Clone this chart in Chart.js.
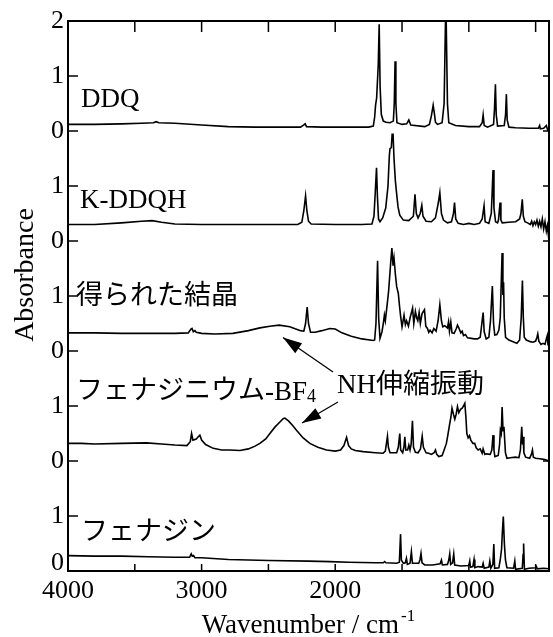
<!DOCTYPE html>
<html><head><meta charset="utf-8">
<script src="https://cdn.jsdelivr.net/npm/chart.js@4"></script>
<style>html,body{margin:0;padding:0;background:#fff}</style>
</head><body>
<canvas id="c" width="553" height="637"></canvas>
<script>
// ---- Data (wavenumber in cm-1, absorbance relative to each trace's own zero) ----
const ddqWn  = [4000,3800,3600,3450,3360,3340,3320,3200,3000,2800,2600,2400,2260,2235,2225,2215,2100,1900,1750,1715,1705,1698,1690,1684,1678,1671,1664,1655,1640,1620,1590,1565,1558,1552,1546,1538,1500,1465,1449,1435,1330,1295,1280,1267,1258,1250,1235,1200,1185,1172,1160,1150,1100,1000,920,900,893,885,860,815,808,801,795,785,735,725,719,713,700,650,550,480,470,465,440,420,410,400];
const ddqAbs = [0.12,0.12,0.13,0.14,0.15,0.17,0.15,0.14,0.11,0.08,0.07,0.07,0.07,0.11,0.13,0.08,0.07,0.07,0.07,0.09,0.25,0.47,0.6,0.9,1.2,1.94,0.8,0.3,0.18,0.16,0.15,0.18,0.5,1.27,0.5,0.15,0.12,0.13,0.2,0.11,0.08,0.12,0.28,0.47,0.32,0.16,0.12,0.15,0.5,2.4,0.5,0.15,0.1,0.08,0.08,0.15,0.29,0.1,0.07,0.12,0.4,0.85,0.3,0.09,0.1,0.3,0.67,0.2,0.07,0.06,0.05,0.05,0.1,0.04,0.05,0.1,0.02,0.03];

const kddqhWn  = [4000,3800,3600,3450,3370,3300,3200,3000,2800,2500,2280,2250,2235,2222,2212,2200,2180,2000,1800,1725,1710,1700,1691,1684,1676,1665,1645,1622,1605,1595,1590,1580,1574,1567,1560,1550,1542,1530,1517,1490,1450,1415,1403,1393,1380,1364,1352,1343,1320,1280,1250,1228,1217,1205,1190,1160,1130,1115,1107,1098,1080,1040,1000,960,920,900,886,878,850,832,825,819,812,800,785,778,772,766,760,750,700,650,620,610,600,592,580,560,540,530,520,510,500,490,480,470,460,450,440,430,420,412,405,400];
const kddqhAbs = [0.30,0.30,0.33,0.36,0.37,0.34,0.31,0.30,0.30,0.30,0.30,0.34,0.55,0.82,0.55,0.36,0.31,0.30,0.30,0.31,0.45,0.9,1.33,0.8,0.4,0.35,0.42,0.6,1.0,1.55,1.68,1.70,1.94,1.94,1.5,1.1,0.9,0.62,0.47,0.38,0.37,0.45,0.85,0.5,0.42,0.5,0.65,0.45,0.36,0.35,0.42,0.7,0.88,0.5,0.38,0.33,0.35,0.5,0.70,0.4,0.32,0.30,0.32,0.30,0.32,0.4,0.64,0.35,0.32,0.5,0.9,1.29,0.6,0.35,0.33,0.38,0.55,0.70,0.38,0.33,0.34,0.35,0.4,0.5,0.76,0.45,0.35,0.33,0.30,0.36,0.28,0.35,0.30,0.38,0.27,0.36,0.26,0.40,0.22,0.35,0.18,0.28,0.12,0.20];

const crystalWn  = [4000,3800,3600,3400,3200,3100,3080,3072,3062,3050,3040,3000,2900,2766,2650,2564,2489,2420,2340,2260,2235,2222,2210,2200,2185,2150,2100,2040,2000,1950,1880,1800,1716,1705,1695,1683,1675,1665,1650,1640,1632,1625,1610,1600,1585,1576,1567,1560,1550,1540,1528,1518,1510,1500,1492,1485,1475,1466,1452,1440,1421,1412,1400,1390,1382,1372,1363,1350,1332,1322,1310,1300,1290,1275,1262,1245,1230,1217,1205,1195,1180,1160,1152,1145,1135,1126,1110,1095,1085,1075,1060,1050,1040,1025,1010,980,960,935,915,905,893,885,870,850,838,824,815,806,790,775,765,751,745,740,735,725,700,660,640,620,608,599,592,585,570,540,520,500,490,484,476,460,445,430,420,413,408,400];
const crystalAbs = [0.33,0.33,0.32,0.32,0.32,0.33,0.40,0.41,0.35,0.37,0.34,0.32,0.31,0.32,0.37,0.42,0.45,0.47,0.44,0.37,0.36,0.5,0.80,0.5,0.34,0.34,0.37,0.41,0.40,0.33,0.27,0.22,0.19,0.2,0.5,1.64,0.6,0.23,0.35,0.50,0.65,0.55,0.87,1.1,1.6,1.87,1.55,1.69,1.4,1.17,1.05,0.8,0.62,0.44,0.55,0.65,0.48,0.55,0.45,0.6,0.78,0.5,0.72,0.6,0.55,0.7,0.5,0.68,0.75,0.45,0.41,0.34,0.38,0.33,0.41,0.36,0.55,0.84,0.55,0.44,0.46,0.42,0.53,0.36,0.53,0.33,0.32,0.4,0.47,0.42,0.33,0.36,0.28,0.3,0.24,0.23,0.22,0.22,0.25,0.45,0.70,0.35,0.22,0.25,0.55,1.18,0.5,0.29,0.3,0.38,0.6,1.78,1.02,1.25,0.6,0.25,0.2,0.16,0.14,0.2,0.6,1.28,0.6,0.25,0.2,0.17,0.16,0.18,0.25,0.31,0.18,0.12,0.14,0.12,0.22,0.28,0.12,0.08];

const phenaziniumWn  = [4000,3900,3800,3600,3413,3300,3200,3110,3085,3075,3065,3040,3025,3013,3000,2970,2913,2850,2790,2713,2650,2600,2564,2520,2489,2450,2414,2390,2377,2350,2320,2290,2240,2190,2130,2065,2000,1960,1935,1915,1900,1880,1850,1791,1700,1642,1625,1615,1609,1602,1590,1540,1528,1517,1510,1495,1486,1479,1472,1458,1449,1440,1432,1422,1414,1400,1380,1362,1349,1340,1330,1320,1300,1280,1260,1250,1240,1225,1200,1185,1168,1155,1143,1134,1126,1115,1105,1095,1085,1075,1062,1050,1040,1030,1022,1015,1005,995,985,970,956,945,930,915,900,893,880,870,840,828,819,812,805,780,770,764,757,751,744,737,732,726,715,690,650,625,614,604,598,594,588,575,545,532,524,517,500,470,440,420,400];
const phenaziniumAbs = [0.32,0.32,0.31,0.32,0.33,0.31,0.29,0.28,0.35,0.50,0.38,0.40,0.44,0.47,0.38,0.30,0.23,0.20,0.20,0.19,0.22,0.27,0.32,0.40,0.50,0.62,0.71,0.77,0.78,0.73,0.65,0.56,0.42,0.32,0.25,0.20,0.18,0.20,0.28,0.43,0.28,0.22,0.19,0.17,0.15,0.14,0.18,0.35,0.45,0.25,0.15,0.15,0.25,0.50,0.2,0.15,0.25,0.44,0.2,0.20,0.29,0.2,0.3,0.73,0.25,0.16,0.15,0.22,0.45,0.25,0.20,0.15,0.14,0.12,0.15,0.20,0.12,0.08,0.10,0.2,0.32,0.5,0.68,0.8,0.96,0.85,0.76,0.85,0.99,0.88,0.94,0.96,1.00,1.05,0.8,0.5,0.42,0.46,0.38,0.32,0.32,0.24,0.2,0.22,0.14,0.22,0.12,0.13,0.12,0.2,0.47,0.2,0.08,0.1,0.3,0.56,0.5,0.98,0.55,0.62,0.4,0.15,0.05,0.06,0.07,0.06,0.2,0.62,0.3,0.44,0.15,0.07,0.05,0.12,0.2,0.07,0.05,0.04,0.03,0.02,0.0];

const phenazineWn  = [4000,3800,3600,3400,3200,3090,3078,3070,3060,3050,3000,2800,2500,2200,2040,1900,1700,1640,1630,1620,1540,1520,1511,1505,1490,1475,1467,1460,1440,1430,1422,1375,1366,1358,1350,1330,1270,1215,1205,1198,1160,1150,1143,1136,1122,1113,1106,1060,1000,993,988,970,961,955,930,900,893,885,850,843,835,820,813,807,775,764,755,749,742,734,726,715,665,656,650,600,594,590,584,550,500,494,488,440,400];
const phenazineAbs = [0.28,0.27,0.27,0.26,0.25,0.25,0.31,0.27,0.28,0.24,0.24,0.21,0.19,0.18,0.17,0.16,0.15,0.15,0.17,0.15,0.14,0.16,0.67,0.2,0.14,0.15,0.23,0.12,0.14,0.35,0.14,0.14,0.2,0.32,0.15,0.11,0.11,0.13,0.2,0.11,0.12,0.2,0.31,0.12,0.15,0.31,0.11,0.09,0.1,0.18,0.07,0.08,0.21,0.06,0.08,0.07,0.14,0.05,0.07,0.18,0.05,0.12,0.49,0.05,0.06,0.22,0.4,0.71,0.99,0.5,0.2,0.06,0.05,0.18,0.03,0.05,0.3,0.50,0.03,0.05,0.06,0.08,0.04,0.05,0.04];

const seriesNames   = ['DDQ','K-DDQH','得られた結晶','フェナジニウム-BF4','フェナジン'];
const seriesOffsets = [8, 6, 4, 2, 0];
const xTickLabels   = [4000, 3000, 2000, 1000];
const yTickValues   = [0, 1, 2, 3, 4, 5, 6, 7, 8, 9, 10];
const yTickLabels   = ['0','1','0','1','0','1','0','1','0','1','2'];

// ---- Build datasets ----
const wnList  = [ddqWn, kddqhWn, crystalWn, phenaziniumWn, phenazineWn];
const absList = [ddqAbs, kddqhAbs, crystalAbs, phenaziniumAbs, phenazineAbs];
const datasets = seriesNames.map((name, k) => ({
  label: name,
  data: wnList[k].map((w, i) => ({x: w, y: absList[k][i] + seriesOffsets[k]})),
  borderColor: '#000',
  borderWidth: 1.6,
  pointRadius: 0,
  tension: 0,
  fill: false
}));

const SERIF = "'Liberation Serif', 'Times New Roman', serif";
const CJK = "'Noto Sans CJK JP', sans-serif";

function arrow(ctx, x1, y1, x2, y2, head, half) {
  ctx.beginPath(); ctx.moveTo(x1, y1); ctx.lineTo(x2, y2); ctx.stroke();
  const a = Math.atan2(y2 - y1, x2 - x1);
  const bx = x2 - head * Math.cos(a), by = y2 - head * Math.sin(a);
  ctx.beginPath();
  ctx.moveTo(x2, y2);
  ctx.lineTo(bx + half * Math.sin(a), by - half * Math.cos(a));
  ctx.lineTo(bx - half * Math.sin(a), by + half * Math.cos(a));
  ctx.closePath(); ctx.fill();
}

function runs(ctx, x, y, parts) {
  for (const p of parts) {
    ctx.font = p.f;
    ctx.fillText(p.t, x, y + (p.dy || 0));
    x += ctx.measureText(p.t).width;
  }
  return x;
}

const decor = {
  id: 'decor',
  afterDraw(chart) {
    const {ctx, chartArea: a, scales: {x, y}} = chart;
    ctx.save();
    ctx.strokeStyle = '#000'; ctx.fillStyle = '#000';
    // frame
    ctx.lineWidth = 2;
    ctx.strokeRect(a.left, a.top, a.right - a.left, a.bottom - a.top);
    // inward ticks
    ctx.lineWidth = 1.5;
    ctx.beginPath();
    for (let v = 500; v < 4000; v += 500) {
      const px = x.getPixelForValue(v);
      ctx.moveTo(px, a.bottom); ctx.lineTo(px, a.bottom - 7);
      ctx.moveTo(px, a.top); ctx.lineTo(px, a.top + 11);
    }
    for (let v = 1; v < 10; v++) {
      const py = y.getPixelForValue(v);
      ctx.moveTo(a.left, py); ctx.lineTo(a.left + 10, py);
      ctx.moveTo(a.right, py); ctx.lineTo(a.right - 6, py);
    }
    ctx.stroke();

    // trace labels
    ctx.textBaseline = 'alphabetic'; ctx.textAlign = 'left';
    const S27 = '27px ' + SERIF, C27 = '27px ' + CJK;
    runs(ctx, 81, 107, [{t: seriesNames[0], f: S27}]);
    runs(ctx, 80, 208, [{t: seriesNames[1], f: S27}]);
    runs(ctx, 76, 304, [{t: seriesNames[2], f: C27}]);
    runs(ctx, 76, 399, [{t: 'フェナジニウム', f: C27}, {t: '-BF', f: S27, dy: 1}, {t: '4', f: '18px ' + SERIF, dy: 3}]);
    runs(ctx, 81, 540, [{t: seriesNames[4], f: C27}]);
    runs(ctx, 337, 393, [{t: 'NH', f: S27}, {t: '伸縮振動', f: C27}]);

    // arrows
    ctx.lineWidth = 1.3;
    arrow(ctx, 333, 372, 283, 337.5, 19, 6);
    arrow(ctx, 338, 402, 302, 423, 19, 6);

    // axis titles
    const t1 = 'Wavenumber / cm';
    ctx.font = '17px ' + SERIF; const supW = ctx.measureText('-1').width;
    ctx.font = '27px ' + SERIF; const tW = ctx.measureText(t1).width;
    const cx = (a.left + a.right) / 2;
    let sx = cx - (tW + supW + 2) / 2;
    ctx.fillText(t1, sx, 633);
    ctx.font = '17px ' + SERIF;
    ctx.fillText('-1', sx + tW + 2, 621);

    ctx.save();
    ctx.translate(33, 275);
    ctx.rotate(-Math.PI / 2);
    ctx.textAlign = 'center';
    ctx.font = '28px ' + SERIF;
    ctx.fillText('Absorbance', 0, 0);
    ctx.restore();
    ctx.restore();
  }
};

new Chart(document.getElementById('c'), {
  type: 'line',
  data: {datasets},
  options: {
    responsive: false,
    animation: false,
    devicePixelRatio: 1,
    layout: {padding: {left: 0, right: 4, top: 21, bottom: 0}},
    plugins: {legend: {display: false}, tooltip: {enabled: false}},
    scales: {
      x: {
        type: 'linear', reverse: true, min: 400, max: 4000,
        grid: {display: false, drawTicks: false},
        border: {display: false},
        afterBuildTicks: s => { s.ticks = xTickLabels.map(v => ({value: v})); },
        afterFit: s => { s.height = 66; },
        ticks: {color: '#000', padding: 5, maxRotation: 0, autoSkip: false,
                font: {family: SERIF, size: 26}, callback: v => String(v)}
      },
      y: {
        type: 'linear', min: 0, max: 10,
        grid: {display: false, drawTicks: false},
        border: {display: false},
        // bottom "0" label sits a little above the axis line, as in the reference
        afterBuildTicks: s => { s.ticks = yTickValues.map(v => ({value: v === 0 ? 0.15 : v})); },
        afterFit: s => { s.width = 68; },
        ticks: {color: '#000', padding: 4, autoSkip: false,
                font: {family: SERIF, size: 26},
                callback: (v, i) => yTickLabels[i]}
      }
    }
  },
  plugins: [decor]
});
</script>
</body></html>
